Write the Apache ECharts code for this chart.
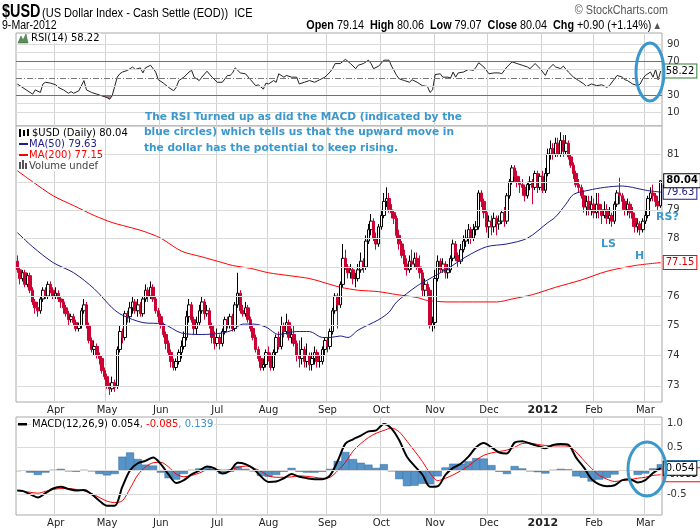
<!DOCTYPE html>
<html>
<head>
<meta charset="utf-8">
<title>$USD daily</title>
<script src="https://cdn.jsdelivr.net/npm/echarts@6.0.0/dist/echarts.min.js"></script>
<style>
  html, body { margin: 0; padding: 0; background: #fff; }
  #chart { width: 700px; height: 530px; }
</style>
</head>
<body>
<div id="chart"></div>
<script>
// trading calendar: weekdays between first and last bar, minus exchange holidays
const holidays = ['2011-04-22', '2011-05-30', '2011-07-04', '2011-09-05', '2011-11-24',
  '2011-12-26', '2012-01-02', '2012-01-16', '2012-02-20'];
const monthNames = ['Jan', 'Feb', 'Mar', 'Apr', 'May', 'Jun', 'Jul', 'Aug', 'Sep', 'Oct', 'Nov', 'Dec'];

// daily OHLC (one value per trading day, 11-Mar-2011 .. 9-Mar-2012)
const opens = [
  77.2, 76.9, 76.6, 76.8, 76.4, 76.7, 76.2, 75.8, 75.6, 75.5,
  75.9, 76.2, 76.0, 76.4, 76.2, 76.0, 76.1, 75.9, 75.8, 75.6,
  75.4, 75.2, 75.3, 75.1, 74.9, 75.0, 75.5, 75.7, 75.0, 74.5,
  74.2, 74.3, 74.0, 73.9, 73.5, 73.3, 73.0, 72.9, 73.1, 73.0,
  74.2, 74.8, 74.6, 75.4, 75.3, 75.6, 75.8, 75.5, 75.7, 75.4,
  75.9, 76.2, 76.0, 76.3, 75.9, 75.5, 75.3, 75.0, 74.7, 74.4,
  74.1, 73.8, 73.6, 73.8, 74.1, 74.3, 74.6, 75.3, 75.7, 75.2,
  74.9, 75.1, 75.5, 75.8, 75.4, 75.5, 75.0, 74.6, 74.4, 74.6,
  74.4, 74.8, 75.2, 75.0, 75.3, 74.9, 75.7, 76.1, 75.5, 75.4,
  75.6, 75.2, 74.9, 74.6, 74.2, 73.9, 73.6, 73.7, 74.1, 74.0,
  73.6, 74.1, 74.6, 74.3, 75.0, 74.8, 75.1, 74.6, 74.7, 74.4,
  74.0, 73.9, 74.2, 73.8, 74.0, 73.7, 73.9, 74.1, 73.8, 73.8,
  74.2, 74.5, 74.3, 74.8, 75.5, 76.0, 75.7, 76.4, 77.3, 77.0,
  76.8, 76.9, 76.6, 76.6, 76.9, 77.2, 77.0, 77.9, 78.3, 78.6,
  78.0, 77.8, 78.4, 78.8, 79.3, 79.4, 79.0, 78.9, 78.7, 78.1,
  77.8, 77.4, 77.1, 76.9, 77.2, 77.1, 77.3, 77.0, 76.8, 76.2,
  76.4, 76.2, 75.0, 75.1, 76.6, 77.2, 76.9, 77.1, 76.8, 76.9,
  77.3, 77.8, 77.4, 77.2, 77.6, 77.9, 78.0, 78.3, 78.0, 78.3,
  78.4, 79.6, 79.3, 78.9, 78.4, 78.6, 78.4, 78.7, 78.5, 78.6,
  78.9, 78.6, 79.5, 80.0, 80.5, 80.2, 80.0, 79.9, 79.8, 79.5,
  79.9, 80.0, 79.8, 80.3, 79.8, 80.2, 79.7, 80.3, 81.0, 81.2,
  81.0, 81.4, 81.0, 81.5, 81.1, 81.4, 80.9, 80.6, 80.3, 79.9,
  79.8, 79.5, 79.1, 79.3, 79.0, 79.2, 78.9, 79.2, 79.0, 78.8,
  79.0, 78.7, 78.8, 78.6, 79.2, 79.6, 79.5, 79.3, 79.0, 79.2,
  78.9, 78.7, 78.4, 78.5, 78.3, 78.6, 78.8, 79.4, 79.6, 79.5, 79.3, 79.14
];
const highs = [
  77.4, 77.0, 76.9, 76.9, 76.8, 76.8, 76.3, 75.9, 75.8, 76.0,
  76.3, 76.3, 76.5, 76.5, 76.3, 76.3, 76.2, 76.0, 75.9, 75.7,
  75.5, 75.4, 75.4, 75.2, 75.1, 75.6, 75.9, 75.8, 75.1, 74.6,
  74.5, 74.4, 74.1, 74.0, 73.6, 73.4, 73.1, 73.3, 73.2, 74.3,
  75.0, 74.9, 75.5, 75.5, 75.8, 76.0, 75.9, 75.9, 75.8, 76.0,
  76.4, 76.3, 76.5, 76.4, 76.0, 75.6, 75.4, 75.1, 74.8, 74.5,
  74.2, 73.9, 73.9, 74.2, 74.5, 74.8, 75.5, 75.9, 75.8, 75.3,
  75.3, 75.7, 76.0, 75.9, 75.7, 75.6, 75.1, 74.8, 74.9, 74.7,
  74.9, 75.3, 75.3, 75.4, 75.4, 75.8, 76.8, 76.2, 75.7, 75.8,
  75.7, 75.3, 75.0, 74.7, 74.3, 74.0, 73.9, 74.2, 74.3, 74.1,
  74.2, 74.7, 74.8, 75.3, 75.1, 75.4, 75.2, 74.9, 75.0, 74.5,
  74.5, 74.6, 74.3, 74.4, 74.1, 74.1, 74.3, 74.2, 74.0, 74.3,
  74.6, 74.6, 74.9, 75.6, 76.1, 76.1, 76.5, 77.8, 77.6, 77.1,
  77.1, 77.0, 76.8, 77.1, 77.5, 77.3, 78.1, 78.5, 78.85, 78.7,
  78.2, 78.5, 79.0, 79.6, 79.8, 79.6, 79.2, 79.0, 78.8, 78.3,
  77.9, 77.6, 77.3, 77.4, 77.6, 77.5, 77.5, 77.4, 76.9, 76.6,
  76.5, 76.3, 75.3, 76.9, 77.4, 77.3, 77.3, 77.2, 77.1, 77.4,
  77.95, 77.9, 77.5, 77.8, 78.1, 78.3, 78.5, 78.4, 78.5, 78.6,
  79.7, 79.7, 79.4, 79.0, 78.8, 78.8, 78.9, 78.8, 78.8, 79.0,
  79.1, 79.6, 80.1, 80.6, 80.6, 80.4, 80.2, 80.1, 79.9, 80.0,
  80.2, 80.1, 80.4, 80.4, 80.3, 80.4, 80.5, 81.2, 81.5, 81.4,
  81.6, 81.6, 81.8, 81.7, 81.7, 81.5, 81.0, 80.7, 80.4, 80.1,
  79.9, 79.7, 79.5, 79.5, 79.5, 79.4, 79.6, 79.6, 79.2, 79.3,
  79.2, 79.1, 78.9, 79.3, 79.7, 80.15, 79.6, 79.4, 79.4, 79.3,
  79.1, 78.9, 78.7, 78.6, 78.7, 79.0, 79.5, 79.8, 79.9, 79.6, 79.5, 80.06
];
const lows = [
  76.8, 76.4, 76.5, 76.3, 76.3, 76.1, 75.7, 75.4, 75.3, 75.4,
  75.8, 75.9, 75.9, 76.1, 75.9, 75.9, 75.8, 75.6, 75.4, 75.3,
  75.0, 75.1, 75.0, 74.8, 74.8, 74.9, 75.4, 74.9, 74.4, 74.1,
  74.0, 73.9, 73.7, 73.4, 73.2, 72.9, 72.7, 72.8, 72.8, 72.9,
  74.1, 74.4, 74.5, 75.1, 75.1, 75.4, 75.4, 75.3, 75.3, 75.3,
  75.8, 75.8, 75.9, 75.8, 75.4, 75.1, 74.9, 74.6, 74.2, 74.0,
  73.6, 73.5, 73.5, 73.7, 73.9, 74.2, 74.5, 75.1, 75.1, 74.7,
  74.7, 75.0, 75.4, 75.2, 75.3, 74.9, 74.4, 74.2, 74.3, 74.2,
  74.3, 74.7, 74.9, 74.9, 74.8, 74.8, 75.6, 75.4, 75.3, 75.3,
  75.1, 74.8, 74.5, 74.1, 73.8, 73.5, 73.5, 73.6, 73.8, 73.5,
  73.5, 74.0, 74.2, 74.2, 74.6, 74.7, 74.5, 74.4, 74.3, 73.8,
  73.6, 73.7, 73.6, 73.6, 73.5, 73.5, 73.7, 73.6, 73.6, 73.7,
  74.0, 74.1, 74.2, 74.7, 75.4, 74.9, 75.6, 76.3, 76.9, 76.6,
  76.6, 76.4, 76.3, 76.5, 76.8, 76.8, 76.9, 77.8, 78.1, 77.9,
  77.6, 77.7, 78.3, 78.7, 79.1, 78.9, 78.7, 78.5, 78.0, 77.6,
  77.3, 76.9, 76.7, 76.8, 76.9, 77.0, 76.9, 76.6, 76.0, 76.0,
  76.0, 74.9, 74.8, 74.9, 76.5, 76.8, 76.8, 76.6, 76.6, 76.8,
  77.2, 77.2, 77.0, 77.1, 77.5, 77.7, 77.8, 77.8, 77.9, 78.1,
  78.3, 79.1, 78.7, 78.2, 78.0, 78.1, 78.2, 78.1, 78.3, 78.5,
  78.4, 78.5, 79.4, 79.9, 80.0, 79.8, 79.6, 79.5, 79.3, 79.4,
  79.7, 79.2, 79.7, 79.6, 79.7, 79.6, 79.6, 80.2, 80.8, 80.8,
  80.9, 80.9, 80.9, 80.9, 81.0, 80.8, 80.5, 80.1, 79.8, 79.6,
  79.4, 78.9, 78.8, 78.8, 78.8, 78.7, 78.7, 78.7, 78.5, 78.7,
  78.5, 78.5, 78.4, 78.5, 79.1, 79.2, 79.0, 78.8, 78.8, 78.7,
  78.4, 78.2, 78.2, 78.1, 78.2, 78.5, 78.7, 79.3, 79.3, 79.1, 79.0, 79.07
];
const closes = [
  76.9, 76.6, 76.8, 76.4, 76.7, 76.2, 75.8, 75.6, 75.5, 75.9,
  76.2, 76.0, 76.4, 76.2, 76.0, 76.1, 75.9, 75.8, 75.6, 75.4,
  75.2, 75.3, 75.1, 74.9, 75.0, 75.5, 75.7, 75.0, 74.5, 74.2,
  74.3, 74.0, 73.9, 73.5, 73.3, 73.0, 72.9, 73.1, 72.95, 74.2,
  74.8, 74.6, 75.4, 75.3, 75.6, 75.8, 75.5, 75.7, 75.4, 75.9,
  76.2, 76.0, 76.3, 75.9, 75.5, 75.3, 75.0, 74.7, 74.4, 74.1,
  73.8, 73.6, 73.8, 74.1, 74.3, 74.6, 75.3, 75.7, 75.2, 74.9,
  75.1, 75.5, 75.8, 75.4, 75.5, 75.0, 74.6, 74.4, 74.6, 74.4,
  74.8, 75.2, 75.0, 75.3, 74.9, 75.7, 76.1, 75.5, 75.4, 75.6,
  75.2, 74.9, 74.6, 74.2, 73.9, 73.6, 73.7, 74.1, 74.0, 73.6,
  74.1, 74.6, 74.3, 75.0, 74.8, 75.1, 74.6, 74.7, 74.4, 74.0,
  73.9, 74.2, 73.8, 74.0, 73.7, 73.9, 74.1, 73.8, 73.8, 74.2,
  74.5, 74.3, 74.8, 75.5, 76.0, 75.7, 76.4, 77.3, 77.0, 76.8,
  76.9, 76.6, 76.6, 76.9, 77.2, 77.0, 77.9, 78.3, 78.6, 78.0,
  77.8, 78.4, 78.8, 79.3, 79.4, 79.0, 78.9, 78.7, 78.1, 77.8,
  77.4, 77.1, 76.9, 77.2, 77.1, 77.3, 77.0, 76.8, 76.2, 76.4,
  76.2, 75.0, 75.1, 76.6, 77.2, 76.9, 77.1, 76.8, 76.9, 77.3,
  77.8, 77.4, 77.2, 77.6, 77.9, 78.0, 78.3, 78.0, 78.3, 78.4,
  79.6, 79.3, 78.9, 78.4, 78.6, 78.4, 78.7, 78.5, 78.6, 78.9,
  78.6, 79.5, 80.0, 80.5, 80.2, 80.0, 79.9, 79.8, 79.5, 79.9,
  80.0, 79.8, 80.3, 79.8, 80.2, 79.7, 80.3, 81.0, 81.2, 81.0,
  81.4, 81.0, 81.5, 81.1, 81.4, 80.9, 80.6, 80.3, 79.9, 79.8,
  79.5, 79.1, 79.3, 79.0, 79.2, 78.9, 79.2, 79.0, 78.8, 79.0,
  78.7, 78.8, 78.6, 79.2, 79.6, 79.5, 79.3, 79.0, 79.2, 78.9,
  78.7, 78.4, 78.5, 78.3, 78.6, 78.8, 79.4, 79.6, 79.5, 79.3, 79.14, 80.04
];

// moving averages as [dayIndex, value]
const ma50 = [[0, 78.2], [6, 77.7], [14, 77.15], [22, 76.8], [30, 76.25], [37, 75.6], [41, 75.35],
  [49, 75.1], [57, 75.05], [64, 74.75], [72, 74.7], [80, 74.75], [84, 74.85], [88, 75.05],
  [92, 75.05], [97, 74.95], [102, 74.7], [109, 74.8], [114, 74.8], [119, 74.6], [122, 74.6],
  [126, 74.65], [129, 74.6], [133, 74.85], [141, 75.2], [145, 75.45], [148, 75.8], [156, 76.35],
  [160, 76.55], [168, 76.95], [175, 77.35], [183, 77.7], [191, 77.8], [199, 78.0], [207, 78.55],
  [210, 78.75], [214, 79.2], [217, 79.55], [223, 79.7], [229, 79.8], [236, 79.85], [240, 79.8],
  [245, 79.7], [251, 79.63]];
const ma200 = [[0, 80.4], [6, 80.0], [14, 79.5], [22, 79.15], [30, 78.8], [37, 78.55], [41, 78.45],
  [49, 78.25], [56, 78.0], [64, 77.55], [72, 77.35], [80, 77.15], [84, 77.05], [91, 76.95],
  [98, 76.8], [106, 76.7], [114, 76.6], [122, 76.4], [126, 76.3], [133, 76.2], [141, 76.15],
  [148, 76.05], [156, 75.95], [160, 75.85], [168, 75.8], [187, 75.8], [193, 75.9], [201, 76.05],
  [210, 76.3], [220, 76.55], [230, 76.85], [241, 77.05], [251, 77.15]];

// RSI(14) as [dayIndex, value]
const rsi = [[0, 43], [3, 37], [6, 31], [7, 36], [9, 33], [10, 43], [11, 45], [13, 44], [15, 42],
  [16, 39], [18, 36], [20, 32], [21, 34], [22, 32], [24, 35], [26, 47], [27, 36], [29, 33], [31, 31],
  [33, 29], [35, 27], [36, 25], [37, 29], [39, 51], [40, 55], [41, 57], [43, 59], [45, 63], [46, 60],
  [48, 62], [49, 56], [50, 62], [52, 65], [54, 57], [55, 48], [57, 44], [59, 39], [61, 35], [62, 39],
  [63, 47], [65, 51], [67, 57], [68, 59], [69, 51], [71, 47], [72, 51], [74, 58], [76, 51], [78, 45],
  [80, 45], [82, 53], [83, 53], [84, 56], [85, 62], [87, 56], [89, 55], [91, 48], [93, 41], [94, 42],
  [96, 37], [97, 44], [98, 43], [100, 47], [101, 45], [102, 55], [104, 51], [105, 53], [107, 51],
  [109, 51], [110, 43], [112, 45], [114, 47], [116, 45], [118, 48], [120, 51], [122, 57], [123, 61],
  [124, 67], [126, 67], [128, 72], [130, 67], [132, 61], [133, 65], [135, 67], [137, 71], [138, 67],
  [139, 61], [141, 64], [143, 71], [145, 71], [146, 64], [148, 53], [149, 49], [151, 47], [153, 45],
  [154, 48], [156, 45], [158, 41], [160, 40], [161, 33], [162, 36], [163, 54], [165, 55], [166, 51],
  [168, 51], [169, 50], [170, 57], [171, 51], [172, 56], [174, 57], [176, 60], [178, 59], [179, 63],
  [180, 68], [182, 63], [184, 55], [186, 56], [188, 56], [189, 55], [191, 63], [193, 69], [195, 67],
  [197, 65], [199, 63], [200, 61], [202, 67], [204, 61], [206, 53], [207, 60], [209, 66], [210, 63],
  [212, 61], [213, 64], [215, 57], [217, 51], [219, 47], [221, 43], [222, 40], [224, 43], [226, 41],
  [228, 42], [230, 39], [231, 41], [233, 49], [234, 53], [236, 51], [237, 48], [238, 47], [240, 43],
  [242, 41], [243, 43], [244, 49], [245, 53], [247, 57], [248, 51], [249, 60], [250, 48], [251, 58.22]];

// MACD(12,26,9) sampled every third day
const macdDays = [0, 2, 5, 8, 11, 14, 17, 20, 23, 26, 29, 32, 35, 38, 41, 44, 47, 50, 53, 56,
  59, 62, 65, 68, 71, 74, 77, 80, 83, 86, 89, 92, 95, 98, 101, 104, 107, 110, 113, 116,
  119, 122, 125, 128, 131, 134, 137, 140, 143, 146, 149, 152, 155, 158, 161, 164, 167, 170, 173, 176,
  179, 182, 185, 188, 191, 194, 197, 200, 203, 206, 209, 212, 215, 218, 221, 224, 227, 230, 233, 236,
  239, 242, 245, 248, 251];
const macdLine = [-0.42, -0.43, -0.50, -0.57, -0.48, -0.38, -0.34, -0.39, -0.42, -0.41,
  -0.50, -0.64, -0.75, -0.75, -0.34, 0.01, 0.16, 0.21, 0.28, 0.14,
  -0.08, -0.26, -0.20, -0.08, 0.00, 0.09, 0.05, -0.06, 0.00, 0.17,
  0.14, 0.05, -0.12, -0.24, -0.23, -0.16, -0.07, -0.13, -0.16, -0.18,
  -0.18, -0.10, 0.21, 0.58, 0.67, 0.75, 0.84, 0.86, 1.00, 0.90,
  0.65, 0.30, 0.10, -0.08, -0.34, -0.33, -0.09, 0.06, 0.15, 0.30,
  0.50, 0.59, 0.50, 0.39, 0.37, 0.60, 0.63, 0.58, 0.53, 0.48,
  0.55, 0.57, 0.55, 0.28, 0.07, -0.18, -0.29, -0.33, -0.31, -0.20,
  -0.18, -0.25, -0.20, -0.05, 0.054];
const signalLine = [-0.42, -0.44, -0.46, -0.48, -0.44, -0.40, -0.38, -0.38, -0.40, -0.43,
  -0.49, -0.57, -0.65, -0.68, -0.64, -0.38, -0.09, 0.08, 0.17, 0.18,
  0.08, -0.07, -0.13, -0.10, -0.05, 0.02, 0.03, 0.01, 0.02, 0.07,
  0.10, 0.06, -0.01, -0.11, -0.14, -0.14, -0.13, -0.11, -0.12, -0.14,
  -0.16, -0.14, 0.00, 0.18, 0.42, 0.58, 0.71, 0.80, 0.86, 0.91,
  0.83, 0.63, 0.42, 0.20, -0.05, -0.21, -0.16, -0.09, 0.00, 0.10,
  0.23, 0.33, 0.38, 0.41, 0.44, 0.50, 0.58, 0.59, 0.56, 0.54,
  0.53, 0.53, 0.52, 0.40, 0.22, 0.05, -0.10, -0.18, -0.23, -0.21,
  -0.19, -0.16, -0.14, -0.10, -0.085];
const macdHist = [0.00, 0.01, -0.04, -0.09, -0.04, 0.02, 0.04, -0.01, -0.02, 0.02,
  -0.01, -0.07, -0.10, -0.07, 0.30, 0.39, 0.25, 0.13, 0.11, -0.04,
  -0.16, -0.19, -0.07, 0.02, 0.05, 0.07, 0.02, -0.07, -0.02, 0.10,
  0.04, -0.01, -0.11, -0.13, -0.09, -0.02, 0.06, -0.02, -0.04, -0.04,
  -0.02, 0.04, 0.21, 0.40, 0.25, 0.17, 0.13, 0.06, 0.14, -0.01,
  -0.18, -0.33, -0.32, -0.28, -0.29, -0.12, 0.07, 0.15, 0.15, 0.20,
  0.27, 0.26, 0.12, -0.02, -0.07, 0.10, 0.05, -0.01, -0.03, -0.06,
  0.02, 0.04, 0.03, -0.12, -0.15, -0.23, -0.19, -0.15, -0.08, 0.01,
  0.01, -0.09, -0.06, 0.05, 0.139];

// axis ticks
const priceTicks = [73, 74, 75, 76, 77, 78, 79, 80, 81];
const priceTickLabels = [73, 74, 75, 76, 78, 79, 81];
const rsiTicks = [10, 20, 40, 60, 80, 90];
const rsiTickLabels = [90, 70, 30, 10];
const macdTicks = [1.0, 0.5, 0, -0.5];
const macdTickLabels = [1.0, 0.5, -0.5];

function buildDates() {
  const out = [];
  const d = new Date(Date.UTC(2011, 2, 11));
  const end = Date.UTC(2012, 2, 9);
  while (d.getTime() <= end) {
    const wd = d.getUTCDay();
    const s = d.toISOString().slice(0, 10);
    if (wd !== 0 && wd !== 6 && holidays.indexOf(s) < 0) out.push(s);
    d.setUTCDate(d.getUTCDate() + 1);
  }
  return out;
}
const dates = buildDates();
const last = dates.length - 1;
const monthStart = new Set();
dates.forEach((d, i) => {
  if (i > 0 && d.slice(5, 7) !== dates[i - 1].slice(5, 7)) monthStart.add(i);
});

const FONT = '"DejaVu Sans", Verdana, sans-serif';
const SANS = '"Liberation Sans", Arial, sans-serif';
const NOTE = '#3a98cc';

function xAxisFor(gridIndex, showLabels) {
  return {
    type: 'category', gridIndex: gridIndex, data: dates, boundaryGap: true,
    axisLine: { show: false }, axisTick: { show: false },
    axisLabel: {
      show: showLabels, interval: (i) => monthStart.has(i), margin: 3,
      color: '#222', fontSize: 10, fontFamily: FONT,
      formatter: (v) => {
        const m = +v.slice(5, 7);
        return m === 1 ? '{y|' + v.slice(0, 4) + '}' : monthNames[m - 1];
      },
      rich: { y: { fontWeight: 'bold', fontSize: 11, fontFamily: FONT, color: '#222' } }
    },
    splitLine: { show: true, interval: (i) => monthStart.has(i), lineStyle: { color: '#d2d2d2', width: 1 } }
  };
}

function tag(text, border, bold) {
  return {
    show: true, formatter: text, color: '#000', fontSize: 10, fontFamily: FONT,
    fontWeight: bold ? 'bold' : 'normal', backgroundColor: '#fff',
    borderColor: border, borderWidth: 1, padding: [2, 2, 1, 2]
  };
}

const gridLine = { color: '#dadada', width: 1, type: 'solid' };
const tickLabel = { show: true, position: 'end', distance: 5, color: '#333', fontSize: 10, fontFamily: FONT };

const rsiMarks = rsiTicks.map(v => ({ yAxis: v, lineStyle: gridLine }))
  .concat([
    { yAxis: 70, lineStyle: { color: '#707070', width: 1, type: 'solid' } },
    { yAxis: 30, lineStyle: { color: '#707070', width: 1, type: 'solid' } },
    { yAxis: 50, lineStyle: { color: '#777', width: 1, type: [6, 2, 1, 2] } }
  ])
  .map(d => Object.assign(d, { label: Object.assign({}, tickLabel, { show: rsiTickLabels.indexOf(d.yAxis) >= 0, formatter: String(d.yAxis) }) }));

const priceMarks = priceTicks.map(v => ({
  yAxis: v, lineStyle: gridLine,
  label: Object.assign({}, tickLabel, { show: priceTickLabels.indexOf(v) >= 0, formatter: String(v) })
}));

const macdMarks = macdTicks.map(v => ({
  yAxis: v, lineStyle: gridLine,
  label: Object.assign({}, tickLabel, { show: macdTickLabels.indexOf(v) >= 0, formatter: v.toFixed(1) })
}));

const candles = dates.map((d, i) => [opens[i], closes[i], lows[i], highs[i]]);
const oversold = rsi.filter(p => p[1] < 30);
const lastMacd = macdDays.length - 1;
const histData = macdDays.map((x, i) => i === lastMacd
  ? { value: [x, macdHist[i]], label: Object.assign(tag(macdHist[i].toFixed(3), '#3a8fd0'), { position: 'right', distance: 5 }) }
  : [x, macdHist[i]]);

const chg = closes[last] - closes[last - 1];
const chgPct = chg / closes[last - 1] * 100;
const header = '{b|Open} ' + opens[last].toFixed(2) + '  {b|High} ' + highs[last].toFixed(2) +
  '  {b|Low} ' + lows[last].toFixed(2) + '  {b|Close} ' + closes[last].toFixed(2) +
  '  {b|Chg} +' + chg.toFixed(2) + ' (+' + chgPct.toFixed(2) + '%) {g|▲}';

function legendText(x, y, text, color, extra) {
  return {
    type: 'text', x: x, y: y, z: 50,
    style: Object.assign({ text: text, font: '10px ' + FONT, fill: color, verticalAlign: 'middle',
      backgroundColor: '#fff', padding: [0, 1, 0, 1] }, extra || {})
  };
}

const chart = echarts.init(document.getElementById('chart'), null, { renderer: 'canvas' });
const option = {
  animation: false,
  backgroundColor: '#fff',
  grid: [
    { left: 16, top: 33, width: 646, height: 93, show: true, borderColor: '#a8a8a8', borderWidth: 1, backgroundColor: '#fff' },
    { left: 16, top: 126, width: 646, height: 276, show: true, borderColor: '#a8a8a8', borderWidth: 1, backgroundColor: '#fff' },
    { left: 16, top: 417, width: 646, height: 98, show: true, borderColor: '#a8a8a8', borderWidth: 1, backgroundColor: '#fff' }
  ],
  xAxis: [xAxisFor(0, false), xAxisFor(1, true), xAxisFor(2, true)],
  yAxis: [
    { type: 'value', gridIndex: 0, min: -6.5, max: 103, show: false },
    { type: 'log', gridIndex: 1, min: 72.47, max: 82.03, show: false },
    { type: 'value', gridIndex: 2, min: -0.945, max: 1.147, show: false }
  ],
  series: [
    {
      name: 'Oversold', type: 'line', xAxisIndex: 0, yAxisIndex: 0, data: oversold, symbol: 'none', z: 2,
      lineStyle: { width: 0 }, areaStyle: { origin: 30, color: '#8e5f6c', opacity: 0.8 }
    },
    {
      name: 'RSI', type: 'line', xAxisIndex: 0, yAxisIndex: 0, data: rsi, symbol: 'none', z: 3,
      lineStyle: { color: '#222', width: 1 },
      endLabel: Object.assign(tag(rsi[rsi.length - 1][1].toFixed(2), '#2e7d32'), { distance: 3 }),
      markLine: { symbol: 'none', silent: true, animation: false, data: rsiMarks }
    },
    {
      name: 'MA(200)', type: 'line', xAxisIndex: 1, yAxisIndex: 1, data: ma200, symbol: 'none', z: 1,
      smooth: 0.3, lineStyle: { color: '#ff0000', width: 1 },
      endLabel: Object.assign(tag(ma200[ma200.length - 1][1].toFixed(2), '#ff0000'), { color: '#cc0000', distance: 3 }),
      markLine: { symbol: 'none', silent: true, animation: false, data: priceMarks }
    },
    {
      name: '$USD', type: 'candlestick', xAxisIndex: 1, yAxisIndex: 1, data: candles, barWidth: 3, z: 3,
      itemStyle: { color: '#fff', color0: '#cc0033', borderColor: '#000', borderColor0: '#cc0033', borderWidth: 1 },
      markPoint: {
        symbol: 'circle', symbolSize: 1, silent: true, animation: false,
        itemStyle: { color: 'rgba(0,0,0,0)' },
        label: Object.assign(tag(closes[last].toFixed(2), '#000', true), { position: 'right', distance: 3 }),
        data: [{ coord: [last, closes[last]] }]
      }
    },
    {
      name: 'MA(50)', type: 'line', xAxisIndex: 1, yAxisIndex: 1, data: ma50, symbol: 'none', z: 4,
      smooth: 0.3, lineStyle: { color: '#1c1c8c', width: 1 },
      endLabel: Object.assign(tag(ma50[ma50.length - 1][1].toFixed(2), '#1c1c8c'), { color: '#1c1c8c', distance: 3 })
    },
    {
      name: 'Histogram', type: 'bar', xAxisIndex: 2, yAxisIndex: 2, data: histData, barWidth: 8, z: 1,
      itemStyle: { color: '#5593c9', borderColor: '#2f6c9f', borderWidth: 0.5 },
      markLine: { symbol: 'none', silent: true, animation: false, data: macdMarks }
    },
    {
      name: 'Signal', type: 'line', xAxisIndex: 2, yAxisIndex: 2, symbol: 'none', z: 3, smooth: 0.3,
      data: macdDays.map((x, i) => [x, signalLine[i]]),
      lineStyle: { color: '#ff0000', width: 1 },
      endLabel: Object.assign(tag(signalLine[lastMacd].toFixed(3), '#ff0000'), { distance: 3 })
    },
    {
      name: 'MACD', type: 'line', xAxisIndex: 2, yAxisIndex: 2, symbol: 'none', z: 4, smooth: 0.3,
      data: macdDays.map((x, i) => [x, macdLine[i]]),
      lineStyle: { color: '#000', width: 2 },
      endLabel: Object.assign(tag(macdLine[lastMacd].toFixed(3), '#000'), { distance: 3 })
    }
  ],
  graphic: [
    { type: 'text', x: 2, y: 12, scaleX: 0.8, style: { text: '$USD', font: 'bold 18px ' + SANS, fill: '#000', verticalAlign: 'middle' } },
    { type: 'text', x: 42, y: 13, scaleX: 0.85, style: { text: '(US Dollar Index - Cash Settle (EOD))  ICE', font: '13px ' + SANS, fill: '#000', verticalAlign: 'middle' } },
    { type: 'text', x: 2, y: 26, scaleX: 0.88, style: { text: '9-Mar-2012', font: '12px ' + SANS, fill: '#000', verticalAlign: 'middle' } },
    { type: 'text', x: 668, y: 11, scaleX: 0.9, style: { text: '© StockCharts.com', font: '12px ' + SANS, fill: '#555', align: 'right', verticalAlign: 'middle' } },
    {
      type: 'text', x: 660, y: 26, scaleX: 0.9,
      style: {
        text: header, font: '12px ' + SANS, fill: '#000', align: 'right', verticalAlign: 'middle',
        rich: { b: { font: 'bold 12px ' + SANS, fill: '#000' }, g: { font: '8px ' + FONT, fill: '#555' } }
      }
    },
    // indicator / price legends
    { type: 'polygon', z: 51, shape: { points: [[18, 43], [21, 36], [23, 40], [26, 34], [28, 43]] }, style: { fill: '#5b8f5b', stroke: '#2e5e2e', lineWidth: 0.5 } },
    legendText(30, 38, 'RSI(14) ' + rsi[rsi.length - 1][1].toFixed(2), '#000'),
    { type: 'rect', z: 51, shape: { x: 19, y: 129, width: 2, height: 8 }, style: { fill: '#000' } },
    { type: 'rect', z: 51, shape: { x: 23, y: 130, width: 2, height: 6 }, style: { fill: '#000' } },
    { type: 'rect', z: 51, shape: { x: 27, y: 129, width: 2, height: 7 }, style: { fill: '#000' } },
    legendText(31, 133, '$USD (Daily) ' + closes[last].toFixed(2), '#000'),
    { type: 'rect', z: 51, shape: { x: 19, y: 143, width: 9, height: 2 }, style: { fill: '#1c1c8c' } },
    legendText(28, 144, 'MA(50) ' + ma50[ma50.length - 1][1].toFixed(2), '#1c1c8c'),
    { type: 'rect', z: 51, shape: { x: 19, y: 154, width: 9, height: 2 }, style: { fill: '#ff0000' } },
    legendText(28, 155, 'MA(200) ' + ma200[ma200.length - 1][1].toFixed(2), '#ff0000'),
    { type: 'rect', z: 51, shape: { x: 19, y: 162, width: 2, height: 7 }, style: { fill: '#555' } },
    { type: 'rect', z: 51, shape: { x: 22, y: 160, width: 2, height: 9 }, style: { fill: '#555' } },
    { type: 'rect', z: 51, shape: { x: 25, y: 163, width: 2, height: 6 }, style: { fill: '#555' } },
    legendText(28, 166, 'Volume undef', '#444'),
    { type: 'rect', z: 51, shape: { x: 18, y: 423, width: 9, height: 2.5 }, style: { fill: '#000' } },
    legendText(31, 424,
      'MACD(12,26,9) ' + macdLine[lastMacd].toFixed(3) + '{r|, ' + signalLine[lastMacd].toFixed(3) + '}{c|, ' + macdHist[lastMacd].toFixed(3) + '}',
      '#000', { rich: { r: { font: '10px ' + FONT, fill: '#ff0000' }, c: { font: '10px ' + FONT, fill: '#3a8fd0' } } }),
    // annotation
    { type: 'text', x: 145, y: 117, z: 60, style: { text: 'The RSI Turned up as did the MACD (indicated by the', font: 'bold 10.6px ' + FONT, fill: NOTE, verticalAlign: 'middle' } },
    { type: 'text', x: 144, y: 132.5, z: 60, style: { text: 'blue circles) which tells us that the upward move in', font: 'bold 10.6px ' + FONT, fill: NOTE, verticalAlign: 'middle' } },
    { type: 'text', x: 144, y: 148, z: 60, style: { text: 'the dollar has the potential to keep rising.', font: 'bold 10.6px ' + FONT, fill: NOTE, verticalAlign: 'middle' } },
    { type: 'text', x: 601, y: 244, z: 60, style: { text: 'LS', font: 'bold 11px ' + FONT, fill: NOTE, verticalAlign: 'middle' } },
    { type: 'text', x: 635, y: 256, z: 60, style: { text: 'H', font: 'bold 11px ' + FONT, fill: NOTE, verticalAlign: 'middle' } },
    { type: 'text', x: 656, y: 217, z: 100, style: { text: 'RS?', font: 'bold 11px ' + FONT, fill: NOTE, verticalAlign: 'middle' } },
    { type: 'ellipse', z: 100, shape: { cx: 650, cy: 72, rx: 14, ry: 29 }, style: { fill: 'none', stroke: NOTE, lineWidth: 3 } },
    { type: 'ellipse', z: 100, shape: { cx: 647, cy: 469, rx: 19, ry: 27 }, style: { fill: 'none', stroke: NOTE, lineWidth: 3 } }
  ]
};
chart.setOption(option);
</script>
</body>
</html>
